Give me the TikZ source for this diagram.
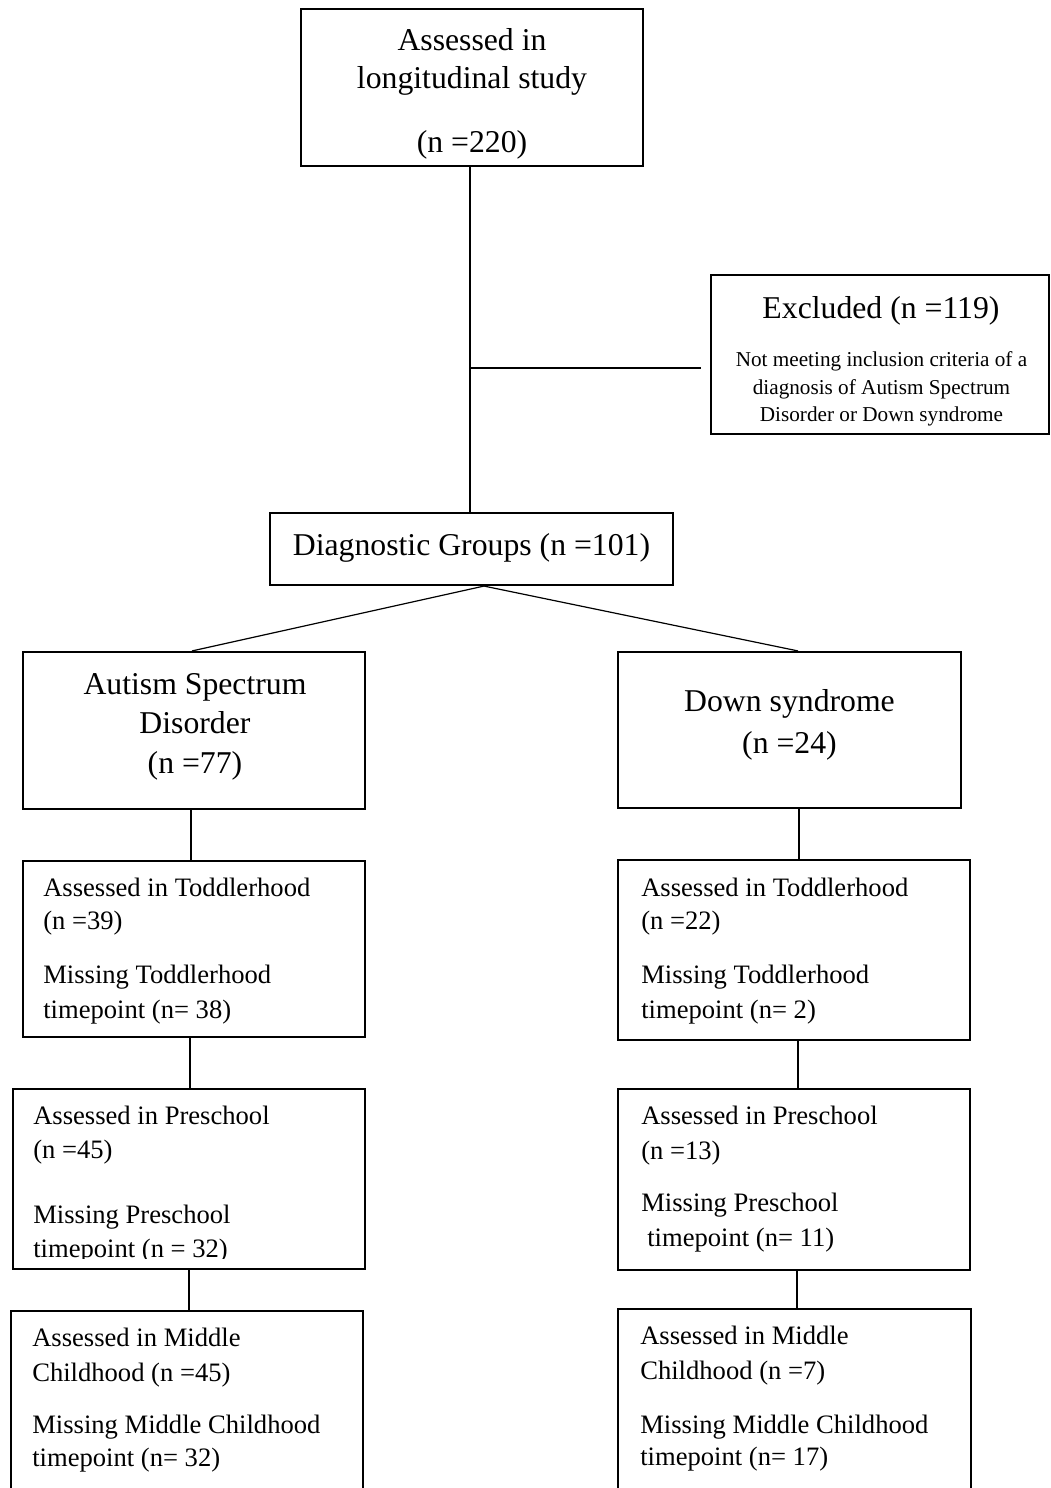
\documentclass[tikz,border=0pt]{standalone}
\usepackage{fontspec}
\setmainfont{Liberation Serif}
\usetikzlibrary{calc}
\newcommand\bigf{\fontsize{23.8}{28}\selectfont}
\newcommand\midf{\fontsize{19.95}{24}\selectfont}
\newcommand\smlf{\fontsize{15.9}{19}\selectfont}
\tikzset{
  box/.style={draw, line width=1.6pt, inner sep=0pt, rectangle},
  conn/.style={draw, line width=0.9pt},
  ctxt/.style={inner sep=0pt, anchor=base, font=\bigf},
  stxt/.style={inner sep=0pt, anchor=base, font=\smlf},
  ltxt/.style={inner sep=0pt, anchor=base west, font=\midf},
}
\begin{document}
\begin{tikzpicture}[x=0.75pt, y=-0.75pt]
\useasboundingbox (0,0) rectangle (1050,1488);
\clip (0,0) rectangle (1050,1488);

% boxes
\node[box, minimum width=342*0.75pt, minimum height=157*0.75pt] (top) at (472,87.5) {};
\node[box, minimum width=338*0.75pt, minimum height=159*0.75pt] (excl) at (880,354.5) {};
\node[box, minimum width=403*0.75pt, minimum height=72*0.75pt] (diag) at (471.5,549) {};
\node[box, minimum width=342*0.75pt, minimum height=157*0.75pt] (asd) at (194,730.5) {};
\node[box, minimum width=343*0.75pt, minimum height=156*0.75pt] (ds) at (789.5,730) {};
\node[box, minimum width=342*0.75pt, minimum height=176*0.75pt] (asdT) at (194,949) {};
\node[box, minimum width=352*0.75pt, minimum height=180*0.75pt] (dsT) at (794,950) {};
\node[box, minimum width=352*0.75pt, minimum height=180*0.75pt] (asdP) at (189,1179) {};
\node[box, minimum width=352*0.75pt, minimum height=181*0.75pt] (dsP) at (794,1179.5) {};
\node[box, minimum width=352*0.75pt, minimum height=189*0.75pt] (asdM) at (187,1405.5) {};
\node[box, minimum width=353*0.75pt, minimum height=191*0.75pt] (dsM) at (794.5,1404.5) {};

% texts
\node[ctxt] (t1) at (472,51) {Assessed in};
\node[ctxt] (t2) at (472,89) {longitudinal study};
\node[ctxt] (t3) at (472,152) {(n =220)};

\node[ctxt] (e1) at (881,318) {Excluded (n =119)};
\node[stxt] (e2) at (881.5,366) {Not meeting inclusion criteria of a};
\node[stxt] (e3) at (881.5,394) {diagnosis of Autism Spectrum};
\node[stxt] (e4) at (881.5,421) {Disorder or Down syndrome};

\node[ctxt] (d1) at (471.5,555) {Diagnostic Groups (n =101)};

\node[ctxt] (a1) at (195,694) {Autism Spectrum};
\node[ctxt] (a2) at (195,733) {Disorder};
\node[ctxt] (a3) at (195,773) {(n =77)};

\node[ctxt] (s1) at (789.5,711) {Down syndrome};
\node[ctxt] (s2) at (789.5,753) {(n =24)};

\node[ltxt] (at1) at (43,896) {Assessed in Toddlerhood};
\node[ltxt] (at2) at (43,929) {(n =39)};
\node[ltxt] (at3) at (43,983) {Missing Toddlerhood};
\node[ltxt] (at4) at (43,1018) {timepoint (n= 38)};

\node[ltxt] (st1) at (641,896) {Assessed in Toddlerhood};
\node[ltxt] (st2) at (641,929) {(n =22)};
\node[ltxt] (st3) at (641,983) {Missing Toddlerhood};
\node[ltxt] (st4) at (641,1018) {timepoint (n= 2)};

\node[ltxt] (ap1) at (33,1124) {Assessed in Preschool};
\node[ltxt] (ap2) at (33,1158) {(n =45)};
\node[ltxt] (ap3) at (33,1223) {Missing Preschool};
\begin{scope}
\clip (0,0) rectangle (1050,1258);
\node[ltxt] (ap4) at (33,1257) {timepoint (n = 32)};
\end{scope}

\node[ltxt] (sp1) at (641,1124) {Assessed in Preschool};
\node[ltxt] (sp2) at (641,1159) {(n =13)};
\node[ltxt] (sp3) at (641,1211) {Missing Preschool};
\node[ltxt] (sp4) at (647,1246) {timepoint (n= 11)};

\node[ltxt] (am1) at (32,1346) {Assessed in Middle};
\node[ltxt] (am2) at (32,1381) {Childhood (n =45)};
\node[ltxt] (am3) at (32,1433) {Missing Middle Childhood};
\node[ltxt] (am4) at (32,1466) {timepoint (n= 32)};

\node[ltxt] (sm1) at (640,1344) {Assessed in Middle};
\node[ltxt] (sm2) at (640,1379) {Childhood (n =7)};
\node[ltxt] (sm3) at (640,1433) {Missing Middle Childhood};
\node[ltxt] (sm4) at (640,1465) {timepoint (n= 17)};

% connector helper coordinates
\coordinate (j) at (470,368);
\coordinate (split) at (484,0);
\coordinate (aX1) at (191,0);
\coordinate (aX2) at (190,0);
\coordinate (aX3) at (189,0);
\coordinate (sX1) at (799,0);
\coordinate (sX2) at (798,0);
\coordinate (sX3) at (797,0);

% connectors
\draw[conn] (top.south -| j) -- (diag.north -| j);
\draw[conn, shorten >=6.75pt] (j) -- (excl.west |- j);
\draw[conn] (diag.south -| split) -- ($(asd.north)+(-2,0)$);
\draw[conn] (diag.south -| split) -- ($(ds.north)+(8.5,0)$);
\draw[conn] (asd.south -| aX1) -- (asdT.north -| aX1);
\draw[conn] (asdT.south -| aX2) -- (asdP.north -| aX2);
\draw[conn] (asdP.south -| aX3) -- (asdM.north -| aX3);
\draw[conn] (ds.south -| sX1) -- (dsT.north -| sX1);
\draw[conn] (dsT.south -| sX2) -- (dsP.north -| sX2);
\draw[conn] (dsP.south -| sX3) -- (dsM.north -| sX3);
\end{tikzpicture}
\end{document}
